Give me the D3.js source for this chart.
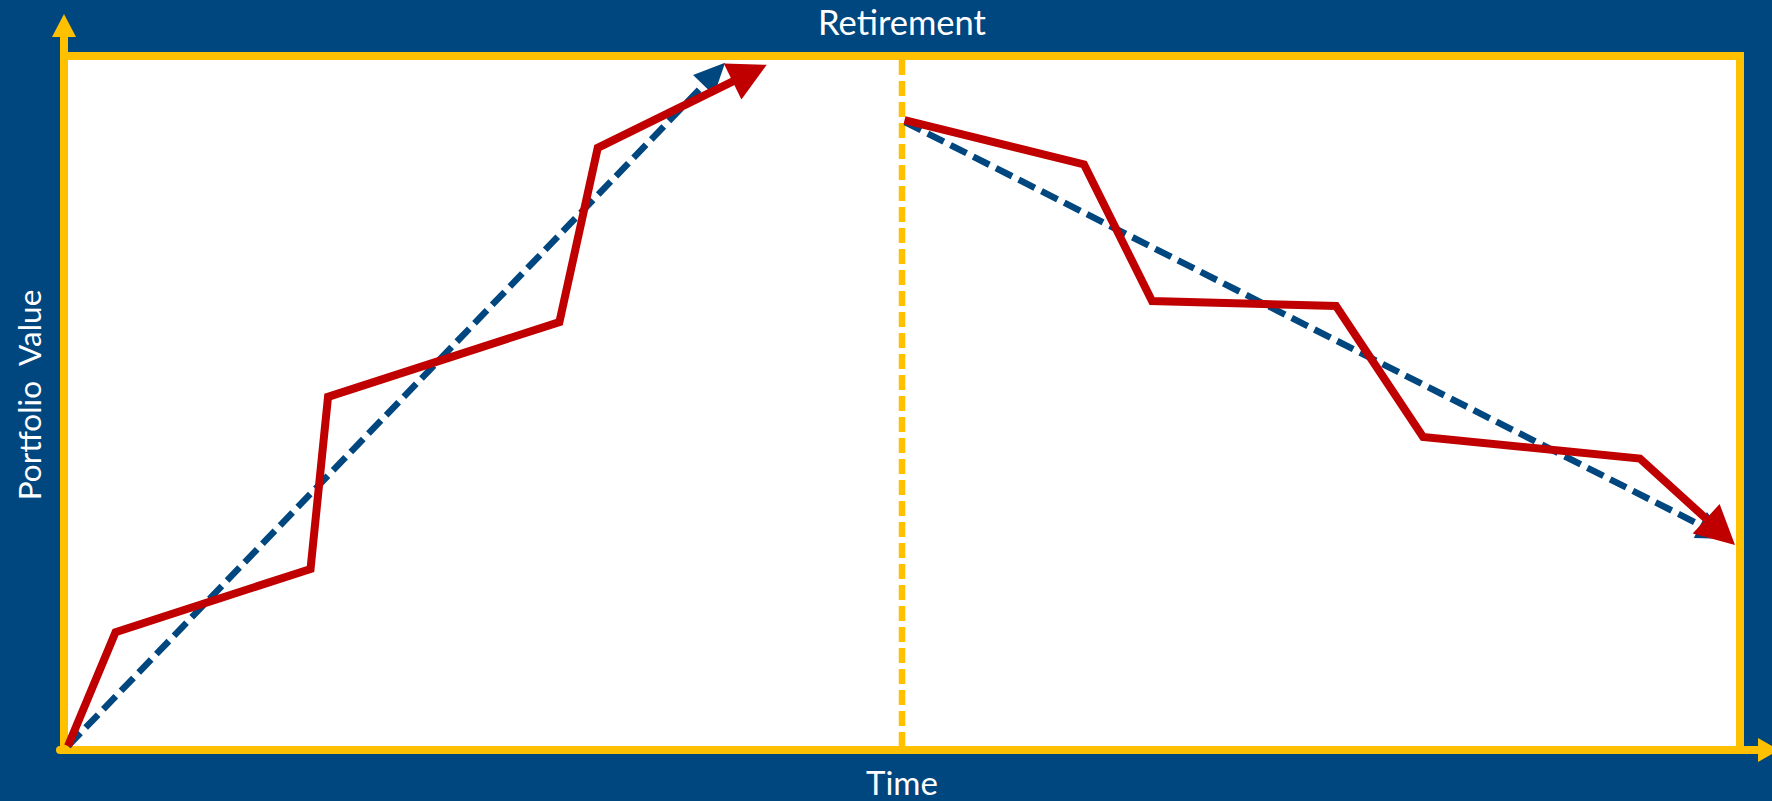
<!DOCTYPE html>
<html>
<head>
<meta charset="utf-8">
<script src="https://cdn.jsdelivr.net/npm/d3@7"></script>
<style>
  html, body { margin: 0; padding: 0; background: #00467F; }
  svg { display: block; }
</style>
</head>
<body>
<svg id="chart" width="1772" height="801"></svg>
<script>
// ---- data (time 0..100, portfolio value 0..100) ----
const accumTime  = [0, 2.85, 14.54, 15.59, 29.46, 31.76, 41.89];
const accumValue = [0, 16.6, 25.8, 50.9, 61.8, 87.2, 99.3];
const drawTime   = [50.15, 60.91, 64.99, 76.02, 81.24, 94.24, 99.94];
const drawValue  = [91.25, 84.77, 64.87, 64.14, 45.04, 41.91, 29.30];
const accumTrendTime  = [0, 39.39];
const accumTrendValue = [0, 99.6];
const drawTrendTime   = [50.18, 99.52];
const drawTrendValue  = [90.96, 30.17];
const retirementTime  = 50;
const labels = { top: "Retirement", x: "Time", y: "Portfolio  Value" };

// ---- styles ----
const NAVY = "#00467F", YELLOW = "#FFC000", RED = "#C00000";

const svg = d3.select("#chart");
const W = 1772, H = 801;
const x = d3.scaleLinear().domain([0, 100]).range([68, 1736]);
const y = d3.scaleLinear().domain([0, 100]).range([746, 60]);

svg.append("rect").attr("width", W).attr("height", H).attr("fill", NAVY);

// plot frame
const fx0 = x(0) - 4, fx1 = x(100) + 4, fy0 = y(100) - 4, fy1 = y(0) + 4;
svg.append("rect")
  .attr("x", x(0)).attr("y", y(100))
  .attr("width", x(100) - x(0)).attr("height", y(0) - y(100))
  .attr("fill", "#fff");
const frame = svg.append("g").attr("stroke", YELLOW).attr("stroke-width", 8).attr("fill", "none");
frame.append("line").attr("x1", fx0 - 4).attr("x2", fx1 + 4).attr("y1", fy0).attr("y2", fy0);
frame.append("line").attr("x1", fx1).attr("x2", fx1).attr("y1", fy0).attr("y2", fy1);
// y axis with arrow
frame.append("line").attr("x1", fx0).attr("x2", fx0).attr("y1", fy1 + 4).attr("y2", 36);
svg.append("path").attr("fill", YELLOW)
  .attr("d", `M${fx0},14 L${fx0 - 12},37 L${fx0 + 12},37 Z`);
// x axis with arrow
frame.append("line").attr("x1", fx0 - 4).attr("x2", 1759).attr("y1", fy1).attr("y2", fy1)
  .attr("stroke-linecap", "round");
svg.append("path").attr("fill", YELLOW)
  .attr("d", `M1779,${fy1} L1758,${fy1 - 12} L1758,${fy1 + 12} Z`);

// retirement divider
svg.append("line")
  .attr("x1", x(retirementTime)).attr("x2", x(retirementTime))
  .attr("y1", y(100)).attr("y2", y(0))
  .attr("stroke", YELLOW).attr("stroke-width", 6.5)
  .attr("stroke-dasharray", "15,6");

// helper: polyline with arrow head at the last point
function arrowLine(times, values, opts) {
  const pts = times.map((t, i) => [x(t), y(values[i])]);
  const tip = pts[pts.length - 1], prev = pts[pts.length - 2];
  const dx = tip[0] - prev[0], dy = tip[1] - prev[1];
  const len = Math.hypot(dx, dy), ux = dx / len, uy = dy / len;
  const base = [tip[0] - ux * opts.headLen, tip[1] - uy * opts.headLen];
  const nx = -uy, ny = ux, hw = opts.headWidth / 2;
  const linePts = pts.slice(0, -1).concat([[base[0] + ux * 2, base[1] + uy * 2]]);
  svg.append("path")
    .attr("d", d3.line()(linePts))
    .attr("fill", "none")
    .attr("stroke", opts.color)
    .attr("stroke-width", opts.width)
    .attr("stroke-linejoin", "miter")
    .attr("stroke-dasharray", opts.dash || null);
  svg.append("path")
    .attr("d", `M${tip[0]},${tip[1]} L${base[0] + nx * hw},${base[1] + ny * hw} L${base[0] - nx * hw},${base[1] - ny * hw} Z`)
    .attr("fill", opts.color);
}

// trend lines (dashed blue)
arrowLine(accumTrendTime, accumTrendValue, { color: NAVY, width: 6.5, dash: "18,7.5", headLen: 31, headWidth: 29 });
arrowLine(drawTrendTime, drawTrendValue, { color: NAVY, width: 6.5, dash: "18,7.5", headLen: 31, headWidth: 29 });
// actual portfolio (red)
arrowLine(accumTime, accumValue, { color: RED, width: 8, headLen: 38, headWidth: 40 });
arrowLine(drawTime, drawValue, { color: RED, width: 8, headLen: 39, headWidth: 40 });

// labels
const font = "Lato, 'Open Sans', sans-serif";
svg.append("text").text(labels.top)
  .attr("x", x(retirementTime)).attr("y", 35)
  .attr("text-anchor", "middle").attr("fill", "#fff")
  .attr("font-family", font).attr("font-size", 34.5);
svg.append("text").text(labels.x)
  .attr("x", x(retirementTime)).attr("y", 795)
  .attr("text-anchor", "middle").attr("fill", "#fff")
  .attr("font-family", font).attr("font-size", 33);
svg.append("text").text(labels.y)
  .attr("transform", `translate(41,395) rotate(-90)`)
  .attr("text-anchor", "middle").attr("fill", "#fff")
  .attr("font-family", font).attr("font-size", 31.5)
  .style("white-space", "pre");
</script>
</body>
</html>
